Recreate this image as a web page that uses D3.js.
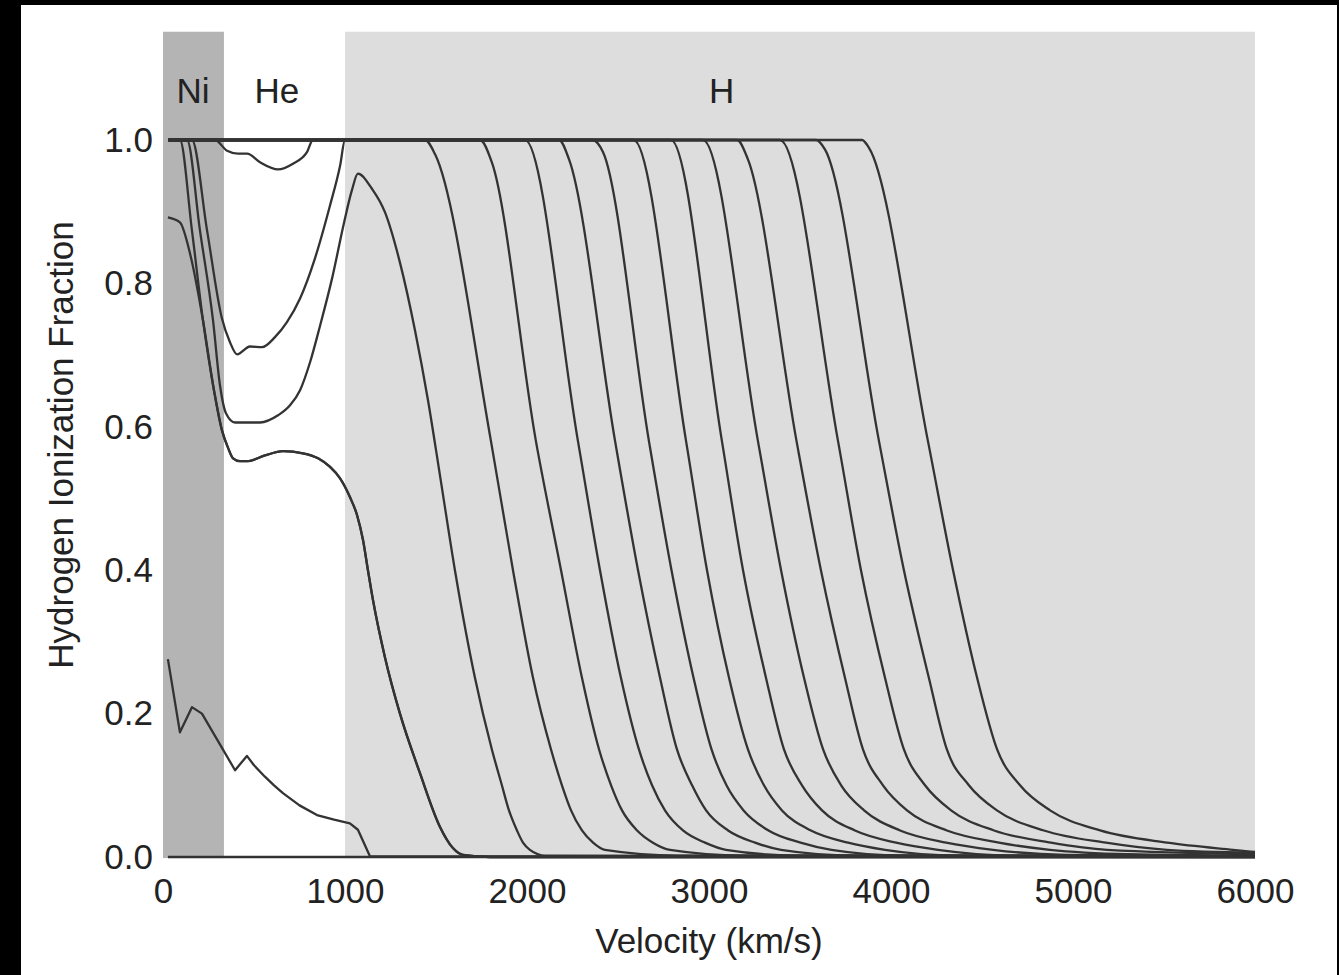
<!DOCTYPE html>
<html>
<head>
<meta charset="utf-8">
<script src="https://cdn.jsdelivr.net/npm/d3@7"></script>
<style>
  html, body { margin: 0; padding: 0; background: #000; }
  svg { display: block; }
  text { font-family: "Liberation Sans", Arial, Helvetica, sans-serif; fill: #222; }
</style>
</head>
<body>
<script>
// composition zones (km/s) and their labels
var zoneNames = ["Ni", "He", "H"];
var zoneStart = [0, 335, 1000];
var zoneEnd = [335, 1000, 6000];
var zoneFill = ["#b4b4b4", "#ffffff", "#dddddd"];
var zoneLabelV = [165, 625, 3070];

var xTicks = [0, 1000, 2000, 3000, 4000, 5000, 6000];
var yTicks = [0, 0.2, 0.4, 0.6, 0.8, 1.0];

// ionization fraction profiles, [velocity, fraction], latest first
var neutral = [[27,0],[6000,0]];
var lateA = [[27,0.276],[93,0.174],[159,0.209],[214,0.2],[396,0.121],[461,0.141],[500,0.128],[560,0.112],[610,0.1],[659,0.089],[750,0.072],[846,0.0585],[940,0.052],[1027,0.047],[1071,0.038],[1137,0.001],[6000,0]];
var lateB = [[27,0.892],[93,0.885],[150,0.84],[220,0.748],[280,0.651],[324,0.595],[357,0.571],[385,0.556],[423,0.552],[462,0.552],[560,0.56],[659,0.566],[769,0.563],[852,0.556],[918,0.544],[973,0.528],[1027,0.502],[1066,0.477],[1099,0.442],[1126,0.4],[1154,0.358],[1220,0.278],[1302,0.2],[1412,0.117],[1522,0.042],[1593,0.0125],[1648,0.003],[1797,0],[6000,0]];
var lateB2 = [[30,1],[93,1],[159,0.874],[220,0.748],[280,0.651],[324,0.595],[357,0.571],[385,0.556],[423,0.552],[462,0.552],[560,0.56],[659,0.566],[769,0.563],[852,0.556],[918,0.544],[973,0.528],[1027,0.502],[1066,0.477],[1099,0.442],[1126,0.4],[1154,0.358],[1220,0.278],[1302,0.2],[1412,0.117],[1522,0.042],[1593,0.0125],[1648,0.003],[1797,0],[6000,0]];
var lateC = [[30,1],[132,1],[203,0.874],[275,0.748],[313,0.658],[346,0.619],[396,0.606],[533,0.606],[632,0.616],[698,0.63],[753,0.651],[808,0.69],[863,0.741],[929,0.807],[995,0.885],[1038,0.93],[1071,0.953],[1148,0.932],[1220,0.899],[1302,0.829],[1385,0.734],[1456,0.637],[1522,0.532],[1604,0.4],[1714,0.25],[1807,0.15],[1862,0.1],[1901,0.065],[1945,0.037],[1978,0.02],[2016,0.01],[2100,0.002],[6000,0.001]];
var lateD = [[30,1],[159,1],[242,0.874],[324,0.751],[368,0.718],[407,0.701],[478,0.712],[544,0.711],[615,0.725],[681,0.746],[753,0.779],[835,0.835],[918,0.909],[973,0.964],[1000,1],[1440,1],[1495,0.98],[1802,0.58],[1923,0.4],[2033,0.25],[2132,0.15],[2192,0.1],[2242,0.065],[2302,0.037],[2363,0.02],[2428,0.01],[2830,0.002],[6000,0.001]];
var midA = [[30,1],[286,1],[352,0.985],[412,0.981],[462,0.981],[533,0.969],[632,0.959],[714,0.967],[791,0.983],[824,1],[1742,1],[1808,0.968],[2049,0.58],[2187,0.4],[2302,0.25],[2396,0.15],[2462,0.1],[2522,0.065],[2605,0.037],[2692,0.02],[2786,0.01],[3190,0.002],[6000,0.001]];
var midB = [[30,1],[1989,1],[2280,0.58],[2401,0.4],[2516,0.25],[2615,0.15],[2687,0.1],[2758,0.065],[2857,0.037],[2978,0.02],[3093,0.01],[3490,0.002],[6000,0.001]];
var midC = [[30,1],[2176,1],[2231,0.973],[2484,0.58],[2610,0.4],[2731,0.25],[2824,0.15],[2907,0.1],[2984,0.065],[3105,0.037],[3253,0.02],[3396,0.01],[3800,0.002],[6000,0.001]];
var midD = [[30,1],[2360,1],[2418,0.983],[2670,0.58],[2794,0.4],[2915,0.25],[3014,0.15],[3096,0.1],[3190,0.065],[3327,0.037],[3503,0.02],[3673,0.01],[4070,0.002],[6000,0.001]];
var midE = [[30,1],[2586,1],[2874,0.58],[2989,0.4],[3110,0.25],[3214,0.15],[3302,0.1],[3401,0.065],[3560,0.037],[3764,0.02],[3967,0.01],[4370,0.002],[6000,0.001]];
var earlyA = [[30,1],[2791,1],[3071,0.58],[3187,0.4],[3313,0.25],[3412,0.15],[3511,0.1],[3621,0.065],[3802,0.037],[4028,0.02],[4258,0.01],[4660,0.002],[6000,0.001]];
var earlyB = [[30,1],[2967,1],[3269,0.58],[3396,0.4],[3522,0.25],[3627,0.15],[3726,0.1],[3852,0.065],[4050,0.037],[4303,0.02],[4561,0.01],[4960,0.003],[6000,0.001]];
var earlyC = [[30,1],[3154,1],[3214,0.973],[3481,0.58],[3615,0.4],[3747,0.25],[3846,0.15],[3956,0.1],[4088,0.065],[4307,0.037],[4593,0.02],[4873,0.01],[5300,0.004],[6000,0.002]];
var earlyD = [[30,1],[3390,1],[3709,0.58],[3835,0.4],[3967,0.25],[4071,0.15],[4187,0.1],[4330,0.065],[4566,0.037],[4879,0.02],[5187,0.01],[6000,0.004]];
var earlyE = [[30,1],[3588,1],[3637,0.987],[3934,0.58],[4071,0.4],[4208,0.25],[4307,0.15],[4428,0.1],[4582,0.065],[4840,0.037],[5181,0.02],[5516,0.01],[6000,0.006]];
var earlyF = [[30,1],[3841,1],[3879,0.989],[4203,0.58],[4341,0.4],[4473,0.25],[4583,0.15],[4709,0.1],[4874,0.065],[5149,0.037],[5517,0.02],[5879,0.01],[6000,0.007]];

var smoothProfiles = [lateB, lateB2, lateC, lateD, midA, midB, midC, midD, midE,
                      earlyA, earlyB, earlyC, earlyD, earlyE, earlyF];

var width = 1339, height = 975;

var svg = d3.select("body").append("svg")
  .attr("width", width)
  .attr("height", height);

// black frame around the page
svg.append("rect").attr("width", width).attr("height", height).attr("fill", "#000");
svg.append("rect").attr("x", 21).attr("y", 5).attr("width", 1316).attr("height", 970).attr("fill", "#fff");

var x = d3.scaleLinear().domain([0, 6000]).range([163, 1255]);
var y = d3.scaleLinear().domain([0, 1]).range([857, 140]);

// shaded zones
svg.append("g").selectAll("rect")
  .data(zoneNames)
  .enter().append("rect")
    .attr("x", function(d, i) { return x(zoneStart[i]); })
    .attr("y", y(1.151))
    .attr("width", function(d, i) { return x(zoneEnd[i]) - x(zoneStart[i]); })
    .attr("height", y(-0.0015) - y(1.151))
    .attr("fill", function(d, i) { return zoneFill[i]; });

svg.append("g").selectAll("text")
  .data(zoneNames)
  .enter().append("text")
    .attr("x", function(d, i) { return x(zoneLabelV[i]); })
    .attr("y", 103)
    .attr("text-anchor", "middle")
    .style("font-size", "35px")
    .text(function(d) { return d; });

var smoothLine = d3.line()
  .x(function(d) { return x(d[0]); })
  .y(function(d) { return y(d[1]); })
  .curve(d3.curveMonotoneX);

// the latest profile is jagged, keep straight segments
var sharpLine = d3.line()
  .x(function(d) { return x(d[0]); })
  .y(function(d) { return y(d[1]); });

var curves = svg.append("g")
  .attr("fill", "none")
  .attr("stroke", "#333")
  .attr("stroke-width", 2.3)
  .attr("stroke-linejoin", "round");

curves.append("path")
  .datum(neutral)
  .attr("d", sharpLine);

curves.selectAll("path.smooth")
  .data(smoothProfiles)
  .enter().append("path")
    .attr("class", "smooth")
    .attr("d", smoothLine);

curves.append("path")
  .datum(lateA)
  .attr("d", sharpLine);

// axes, labels only
var xAxis = svg.append("g")
  .attr("transform", "translate(0," + y(0) + ")")
  .call(d3.axisBottom(x).tickValues(xTicks).tickSize(0).tickPadding(21).tickFormat(d3.format("d")));
var yAxis = svg.append("g")
  .attr("transform", "translate(" + x(0) + ",0)")
  .call(d3.axisLeft(y).tickValues(yTicks).tickSize(0).tickPadding(10).tickFormat(d3.format(".1f")));

[xAxis, yAxis].forEach(function(a) {
  a.select(".domain").remove();
  a.selectAll("text")
    .style("font-size", "35px")
    .style("font-family", "'Liberation Sans', Arial, sans-serif")
    .attr("fill", "#222");
});

svg.append("text")
  .attr("x", 709)
  .attr("y", 953)
  .attr("text-anchor", "middle")
  .style("font-size", "35px")
  .text("Velocity (km/s)");

svg.append("text")
  .attr("transform", "translate(73,445) rotate(-90)")
  .attr("text-anchor", "middle")
  .style("font-size", "35px")
  .text("Hydrogen Ionization Fraction");
</script>
</body>
</html>
